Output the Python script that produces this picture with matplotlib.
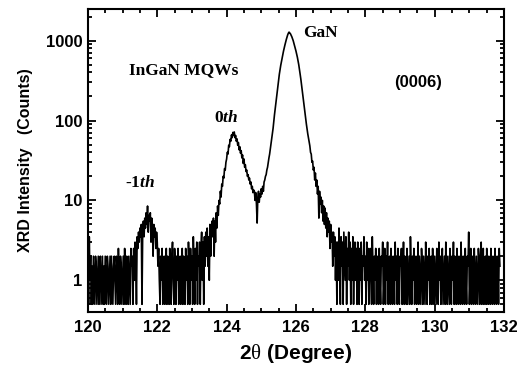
import numpy as np
import matplotlib.pyplot as plt
from matplotlib.ticker import LogLocator, MultipleLocator, NullFormatter, FixedLocator

plt.rcParams['font.family'] = ['Liberation Sans', 'DejaVu Sans']
plt.rcParams['mathtext.fontset'] = 'custom'
plt.rcParams['mathtext.rm'] = 'Liberation Serif'
plt.rcParams['mathtext.bf'] = 'Liberation Serif:bold'
plt.rcParams['mathtext.it'] = 'Liberation Serif:bold:italic'

# scan grid: 2theta from 120.00 in 0.02 deg steps
TTH_START = 120.0
TTH_STEP = 0.02

# counts, one row per 0.4 deg
counts = [
    2, 0.5, 3.5, 1, 2, 0.5, 1.5, 0.5, 2, 1, 0.5, 2, 1.5, 0.5, 1, 2, 0.5, 1.5, 2, 0.5,            # 120.0
    1, 2, 0.5, 1.5, 0.5, 2, 1, 0.5, 2, 1.5, 0.5, 1, 2, 0.5, 2, 1, 0.5, 1.5, 2, 1,                # 120.4
    0.5, 2, 1.5, 0.5, 2.5, 1, 0.5, 2, 1.5, 0.5, 1, 2, 0.5, 2.5, 1, 0.5, 2, 1.5, 0.5, 2,          # 120.8
    1, 0.5, 2.5, 1.5, 2, 0.5, 2.5, 1, 3, 2, 0.5, 3.5, 2.5, 4, 3, 4.5, 3.5, 5, 0.5, 4,            # 121.2
    5.5, 3.5, 6, 4.5, 7, 5, 8.5, 4, 6.5, 5.5, 7, 3, 6, 4.5, 2, 5, 3.5, 4.5, 2.5, 4,              # 121.6
    3, 1.5, 2.5, 1, 0.5, 2, 1, 2.5, 0.5, 1.5, 2, 0.5, 1, 2.5, 0.5, 2, 1.5, 0.5, 2.5, 1,          # 122.0
    0.5, 2, 3, 1, 0.5, 2.5, 1.5, 0.5, 2, 1, 2.5, 0.5, 1.5, 2, 0.5, 1, 2.5, 0.5, 2, 1.5,          # 122.4
    0.5, 2.5, 1, 2, 0.5, 3, 1.5, 0.5, 2.5, 1, 2, 0.5, 3.5, 1.5, 0.5, 2.5, 1, 3, 0.5, 2,          # 122.8
    1.5, 3, 0.5, 2.5, 4, 1, 3, 0.5, 3.5, 1.5, 4, 2, 4.5, 1.5, 3.5, 1, 5, 2, 4.5, 5.5,            # 123.2
    3.5, 6, 2, 5.5, 3, 7, 4.5, 8.5, 6.5, 10, 9, 13, 11, 16, 15, 20, 19, 25, 24, 30,              # 123.6
    33, 40, 38, 49, 47, 58, 55, 66, 61, 71, 65, 72, 61, 65, 55, 59, 49, 53, 43, 47,              # 124.0
    39, 42, 34, 37, 29, 33, 26, 28, 23, 24, 20, 21, 18, 19, 16, 17, 14, 15, 12.5, 13.5,          # 124.4
    13, 10, 12.5, 9, 5.2, 11, 13, 9.5, 12, 11, 14, 12, 15, 13, 17, 18, 20, 21, 24, 26,           # 124.8
    30, 34, 38, 44, 50, 58, 68, 80, 98, 118, 140, 168, 200, 238, 280, 330, 380, 435, 490, 545,   # 125.2
    600, 670, 740, 810, 880, 955, 1030, 1100, 1180, 1240, 1280, 1250, 1220, 1170, 1120, 1060, 1000, 930, 860, 800,  # 125.6
    740, 680, 620, 560, 500, 440, 380, 330, 280, 240, 200, 170, 145, 125, 105, 90, 78, 68, 60, 54,  # 126.0
    48, 40, 38, 30, 31, 24, 26, 18, 22, 15, 18, 12, 15, 6, 13, 9, 11, 7, 10, 5.5,                # 126.4
    8.5, 5, 8, 4.5, 7, 3.5, 6, 4, 5.5, 2.5, 5, 3, 4, 1.5, 4, 2, 3.5, 1, 3, 0.5,                  # 126.8
    3, 1, 4.5, 2, 0.5, 3.5, 1.5, 3, 0.5, 4, 2, 1, 3.5, 0.5, 2.5, 1.5, 4, 1, 3, 0.5,              # 127.2
    2.5, 1, 3.5, 0.5, 2, 3, 1, 2.5, 0.5, 3, 1.5, 0.5, 2.5, 1, 3, 0.5, 2, 1.5, 3.5, 1,            # 127.6
    2, 0.5, 3, 1, 2.5, 0.5, 1.5, 2.5, 1, 0.5, 3.5, 1.5, 0.5, 2, 1, 2.5, 0.5, 2, 1.5, 0.5,        # 128.0
    2.5, 1, 0.5, 2, 1.5, 3, 0.5, 1, 2.5, 0.5, 2, 1, 3, 0.5, 1.5, 2, 0.5, 2.5, 1, 0.5,            # 128.4
    2, 1.5, 0.5, 3, 1, 2, 0.5, 2.5, 1, 0.5, 2, 1.5, 2.5, 0.5, 1, 3, 0.5, 2, 1.5, 0.5,            # 128.8
    2.5, 0.5, 1, 2, 0.5, 3.5, 1.5, 0.5, 2, 1, 2.5, 0.5, 1.5, 2, 0.5, 1, 3, 0.5, 2, 1,            # 129.2
    0.5, 2.5, 1.5, 0.5, 2, 1, 0.5, 3, 1.5, 0.5, 2, 1, 2.5, 0.5, 1.5, 2, 0.5, 2.5, 1, 0.5,        # 129.6
    2, 1, 0.5, 2.5, 1.5, 0.5, 3, 1, 2, 0.5, 1.5, 2.5, 0.5, 1, 2, 0.5, 3, 1.5, 0.5, 2,            # 130.0
    1, 0.5, 2.5, 1.5, 0.5, 2, 1, 3, 0.5, 2, 1.5, 0.5, 2.5, 1, 0.5, 2, 1.5, 0.5, 3, 1,            # 130.4
    0.5, 2, 1.5, 0.5, 2.5, 1, 0.5, 2, 1.5, 4, 0.5, 1, 2.5, 0.5, 2, 1.5, 0.5, 2.5, 1, 0.5,        # 130.8
    2, 1, 0.5, 2.5, 1.5, 0.5, 2, 3, 0.5, 1, 2.5, 0.5, 1.5, 2, 0.5, 2.5, 1, 0.5, 2, 1.5,          # 131.2
    0.5, 2.5, 1, 0.5, 2, 1.5, 0.5, 2.5, 1, 0.5, 2, 1.5, 0.5, 2.5, 1.5,                           # 131.6
]
tth = TTH_START + TTH_STEP * np.arange(len(counts))

fig = plt.figure(figsize=(5.17, 3.71), dpi=100)
ax = fig.add_axes([0.170, 0.159, 0.805, 0.817])

ax.plot(tth, counts, color='black', lw=1.2)

ax.set_yscale('log')
ax.set_xlim(120, 132)
ax.set_ylim(0.4, 2500)

ax.xaxis.set_major_locator(MultipleLocator(2))
ax.xaxis.set_minor_locator(MultipleLocator(0.5))
ax.yaxis.set_major_locator(FixedLocator([1, 10, 100, 1000]))
ax.yaxis.set_major_formatter(plt.FuncFormatter(lambda v, p: f"{v:g}"))
ax.yaxis.set_minor_locator(LogLocator(base=10, subs=np.arange(2, 10)))
ax.yaxis.set_minor_formatter(NullFormatter())

ax.tick_params(which='both', direction='in', top=True, right=True, width=1.3)
ax.tick_params(which='major', length=6)
ax.tick_params(which='minor', length=3)
ax.tick_params(axis='x', which='major', labelsize=12, pad=6)
ax.tick_params(axis='y', which='major', labelsize=12, pad=4)
for lbl in ax.get_xticklabels():
    lbl.set_fontweight('bold')
    lbl.set_family(['Liberation Sans Narrow', 'Liberation Sans'])
for lbl in ax.get_yticklabels():
    lbl.set_fontweight('bold')
for sp in ax.spines.values():
    sp.set_linewidth(1.5)

ax.set_xlabel(r'2$\mathrm{\theta}$ (Degree)', fontsize=15, fontweight='bold', labelpad=5)
ax.set_ylabel('XRD Intensity   (Counts)', fontsize=11.5, fontweight='bold')
ax.yaxis.set_label_coords(-0.132, 0.5)

serif = dict(family='Liberation Serif', fontweight='bold', fontsize=12.5, ha='center', va='center')
ax.text(122.75, 430, 'InGaN MQWs', **serif)
ax.text(124.0, 109, r'$\mathbf{0}th$', **serif)
ax.text(121.5, 16.6, r'-$\mathbf{1}th$', **serif)
ax.text(126.7, 1250, 'GaN', **serif)
ax.text(129.52, 300, '(0006)', fontsize=12, fontweight='bold', ha='center', va='center')

fig.savefig('out.png', dpi=100)
